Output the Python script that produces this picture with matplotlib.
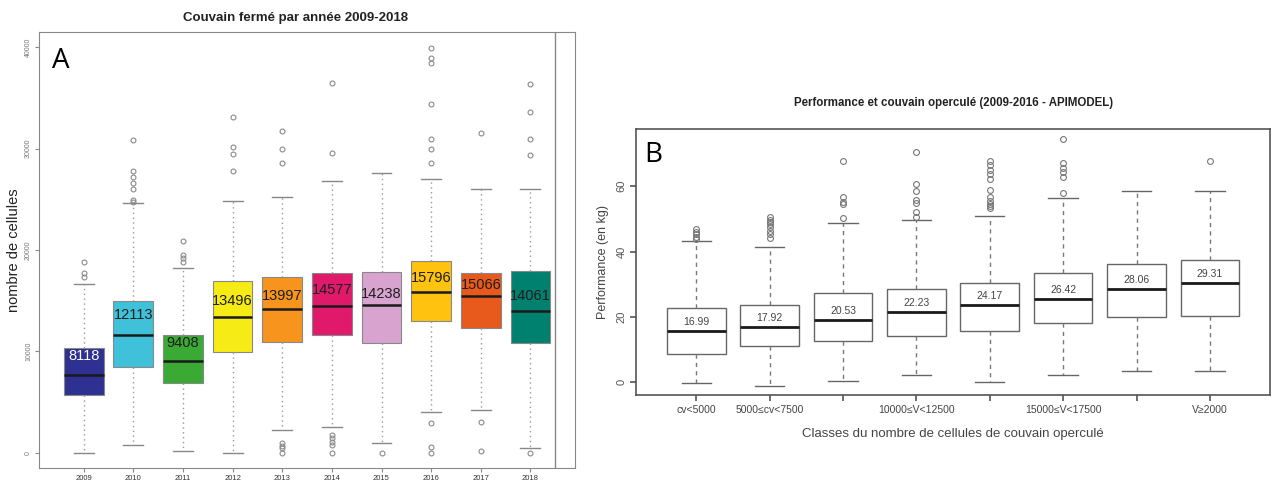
import matplotlib
matplotlib.use("Agg")
import matplotlib.pyplot as plt

plt.rcParams['font.family'] = ['Liberation Sans', 'DejaVu Sans']

# ---- Panel A : couvain fermé par année ----
annees = ['2009', '2010', '2011', '2012', '2013', '2014', '2015', '2016', '2017', '2018']
moyennes_a = [8118, 12113, 9408, 13496, 13997, 14577, 14238, 15796, 15066, 14061]
medianes_a = [7680, 11630, 9060, 13430, 14190, 14510, 14580, 15830, 15500, 13990]
q1_a = [5710, 8500, 6870, 9980, 10970, 11630, 10800, 13000, 12280, 10800]
q3_a = [10310, 14980, 11630, 16950, 17370, 17760, 17860, 18950, 17760, 17930]
bas_a = [0, 790, 200, 0, 2200, 2590, 950, 4070, 4240, 460]
haut_a = [16650, 24660, 18260, 24830, 25190, 26800, 27550, 26990, 26010, 26010]
aberrants_a = [
    [18850, 17700, 17370],
    [30810, 27780, 27220, 26630, 26010, 24930, 24770],
    [20920, 19500, 19180, 18850],
    [33130, 30180, 29460, 27780],
    [31760, 29950, 28540, 950, 690, 460, 0],
    [36480, 29590, 1770, 1440, 1110, 790, 0],
    [0],
    [39930, 38950, 38390, 34350, 30970, 29950, 28540, 2920, 620, 0],
    [31560, 2990, 200],
    [36350, 33630, 30970, 29360, 0],
]
couleurs_a = ['#2e3192', '#3ec1d9', '#3aaa35', '#f6eb14', '#f7941e',
              '#e0196a', '#d9a3cf', '#ffc20e', '#e85a1b', '#00806e']

# ---- Panel B : performance et couvain operculé ----
classes_b = ['cv<5000', '5000≤cv<7500', '', '10000≤V<12500', '',
             '15000≤V<17500', '', 'V≥2000']
moyennes_b = [16.99, 17.92, 20.53, 22.23, 24.17, 26.42, 28.06, 29.31]
medianes_b = [15.7, 17.0, 19.05, 21.4, 23.6, 25.5, 28.4, 30.3]
q1_b = [8.65, 11.2, 12.7, 14.2, 15.8, 18.0, 19.9, 20.3]
q3_b = [22.6, 23.6, 27.2, 28.4, 30.5, 33.5, 36.1, 37.4]
bas_b = [-0.3, -1.1, 0.5, 2.2, 0.2, 2.2, 3.45, 3.45]
haut_b = [43.2, 41.5, 48.6, 49.6, 50.9, 56.3, 58.5, 58.5]
aberrants_b = [
    [46.9, 46.1, 45.4, 44.5, 43.7],
    [50.6, 49.8, 49.1, 48.4, 47.4, 46.4, 45.4, 44.3],
    [67.8, 56.8, 55.2, 54.5, 50.3],
    [70.5, 60.6, 58.6, 55.7, 54.9, 52.2, 50.5],
    [67.7, 66.5, 65.1, 63.7, 62.1, 58.8, 56.6, 55.5, 54.5, 53.9, 53.2],
    [74.3, 67.2, 65.7, 64.4, 62.9, 57.8],
    [],
    [67.7],
]


def stats(med, q1, q3, lo, hi, fl):
    return [dict(med=m, q1=a, q3=b, whislo=l, whishi=h, fliers=f)
            for m, a, b, l, h, f in zip(med, q1, q3, lo, hi, fl)]


fig = plt.figure(figsize=(12.72, 4.83), dpi=100)

# ================= A =================
axA = fig.add_axes([0.0307, 0.031, 0.4214, 0.903])
posA = list(range(1, len(annees) + 1))
bp = axA.bxp(stats(medianes_a, q1_a, q3_a, bas_a, haut_a, aberrants_a),
             positions=posA, widths=0.8, capwidths=0.4, patch_artist=True,
             boxprops=dict(edgecolor='#888888', linewidth=0.8),
             whiskerprops=dict(color='#999999', linestyle=(0, (1, 2.5)), linewidth=1),
             capprops=dict(color='#888888', linewidth=1),
             medianprops=dict(color='#1a1a1a', linewidth=1.8),
             flierprops=dict(marker='o', markersize=3.5, markerfacecolor='none',
                             markeredgecolor='#8a8a8a', markeredgewidth=0.8))
for patch, c in zip(bp['boxes'], couleurs_a):
    patch.set_facecolor(c)

for i, (p, m) in enumerate(zip(posA, moyennes_a)):
    axA.annotate(str(m), (p, m), xytext=(0, 10.5), textcoords='offset points',
                 ha='center', va='center', fontsize=10.5,
                 color='white' if i == 0 else '#1e1e1e')

axA.set_xlim(0.1, 10.9)
axA.set_ylim(-1500, 41500)
axA.axvline(10.5, color='#888888', linewidth=1)
axA.set_xticks(posA)
axA.set_xticklabels(annees, fontsize=5.5, color='#333333')
axA.set_yticks([0, 10000, 20000, 30000, 40000])
axA.set_yticklabels(['0', '10000', '20000', '30000', '40000'],
                    fontsize=5, color='#777777', rotation=90, va='center')
axA.tick_params(axis='both', length=3, color='#888888', pad=2)
for s in axA.spines.values():
    s.set_color('#888888')
axA.set_ylabel('nombre de cellules', fontsize=10.5, color='#222222')
axA.yaxis.set_label_coords(-0.034, 0.5)
axA.text(0.024, 0.965, 'A', transform=axA.transAxes, fontsize=20,
         family=['Open Sans', 'DejaVu Sans'], va='top', ha='left')
fig.text(0.232, 0.963, 'Couvain fermé par année 2009-2018', ha='center',
         va='center', fontsize=9.5, fontweight='bold', color='#222222')

# ================= B =================
axB = fig.add_axes([0.5, 0.182, 0.4985, 0.551])
posB = list(range(1, len(classes_b) + 1))
axB.bxp(stats(medianes_b, q1_b, q3_b, bas_b, haut_b, aberrants_b),
        positions=posB, widths=0.8, capwidths=0.4, patch_artist=True,
        boxprops=dict(facecolor='white', edgecolor='#666666', linewidth=1),
        whiskerprops=dict(color='#777777', linestyle=(0, (3, 3)), linewidth=1),
        capprops=dict(color='#666666', linewidth=1),
        medianprops=dict(color='#1a1a1a', linewidth=2),
        flierprops=dict(marker='o', markersize=4.2, markerfacecolor='none',
                        markeredgecolor='#777777', markeredgewidth=0.8))

for p, med, m in zip(posB, medianes_b, moyennes_b):
    axB.annotate(f'{m:.2f}', (p, med), xytext=(0, 6.5), textcoords='offset points',
                 ha='center', va='center', fontsize=7.5, color='#444444')

axB.set_xlim(0.18, 8.82)
axB.set_ylim(-3.9, 77.5)
axB.set_xticks(posB)
axB.set_xticklabels(classes_b, fontsize=7.5, color='#444444')
axB.set_yticks([0, 20, 40, 60])
axB.set_yticklabels(['0', '20', '40', '60'], fontsize=8, color='#555555',
                    rotation=90, va='center')
axB.tick_params(axis='both', length=4, color='#555555', width=1.2, pad=3)
for s in axB.spines.values():
    s.set_color('#555555')
    s.set_linewidth(1.2)
axB.set_ylabel('Performance (en kg)', fontsize=9, color='#444444')
axB.yaxis.set_label_coords(-0.043, 0.5)
axB.set_xlabel('Classes du nombre de cellules de couvain operculé',
               fontsize=9.5, color='#444444')
axB.xaxis.set_label_coords(0.5, -0.124)
axB.text(0.0126, 0.955, 'B', transform=axB.transAxes, fontsize=20,
         family=['Open Sans', 'DejaVu Sans'], va='top', ha='left')
fig.text(0.75, 0.787, 'Performance et couvain operculé (2009-2016 - APIMODEL)',
         ha='center', va='center', fontsize=8.3, fontweight='bold', color='#222222')

fig.savefig('out.png', dpi=100)
